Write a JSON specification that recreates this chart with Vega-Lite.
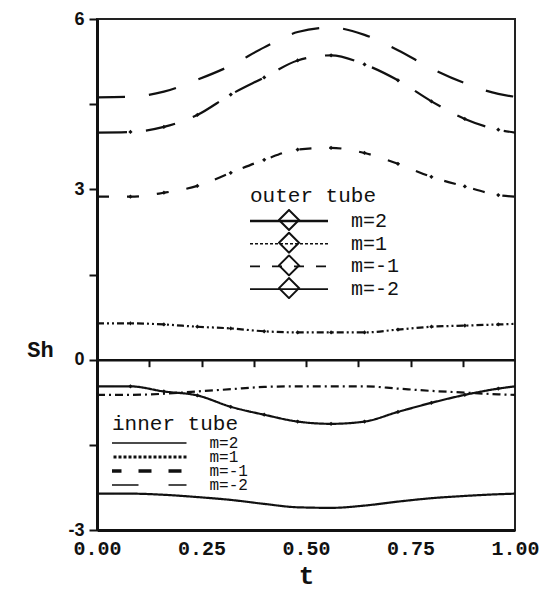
{
  "$schema": "https://vega.github.io/schema/vega-lite/v6.json",
  "width": 418,
  "height": 511,
  "autosize": {"type": "none"},
  "padding": {"left": 97, "top": 19, "right": 32, "bottom": 62},
  "background": "white",
  "config": {
    "view": {"stroke": "#222", "strokeWidth": 2},
    "axis": {"grid": false, "domainColor": "#111", "tickColor": "#111", "labelColor": "#111", "titleColor": "#111"}
  },
  "data": {
    "values": [
      {"tube": "outer", "m": "m=-2", "t": 0.00, "Sh": 4.62},
      {"tube": "outer", "m": "m=-2", "t": 0.08, "Sh": 4.63},
      {"tube": "outer", "m": "m=-2", "t": 0.16, "Sh": 4.72},
      {"tube": "outer", "m": "m=-2", "t": 0.24, "Sh": 4.93},
      {"tube": "outer", "m": "m=-2", "t": 0.32, "Sh": 5.18},
      {"tube": "outer", "m": "m=-2", "t": 0.40, "Sh": 5.50},
      {"tube": "outer", "m": "m=-2", "t": 0.48, "Sh": 5.77},
      {"tube": "outer", "m": "m=-2", "t": 0.56, "Sh": 5.85},
      {"tube": "outer", "m": "m=-2", "t": 0.64, "Sh": 5.72},
      {"tube": "outer", "m": "m=-2", "t": 0.72, "Sh": 5.45},
      {"tube": "outer", "m": "m=-2", "t": 0.80, "Sh": 5.13},
      {"tube": "outer", "m": "m=-2", "t": 0.88, "Sh": 4.87},
      {"tube": "outer", "m": "m=-2", "t": 0.96, "Sh": 4.68},
      {"tube": "outer", "m": "m=-2", "t": 1.00, "Sh": 4.63},
      {"tube": "outer", "m": "m=-1", "t": 0.00, "Sh": 4.00},
      {"tube": "outer", "m": "m=-1", "t": 0.08, "Sh": 4.01},
      {"tube": "outer", "m": "m=-1", "t": 0.16, "Sh": 4.10},
      {"tube": "outer", "m": "m=-1", "t": 0.24, "Sh": 4.31},
      {"tube": "outer", "m": "m=-1", "t": 0.32, "Sh": 4.67},
      {"tube": "outer", "m": "m=-1", "t": 0.40, "Sh": 4.97},
      {"tube": "outer", "m": "m=-1", "t": 0.48, "Sh": 5.27},
      {"tube": "outer", "m": "m=-1", "t": 0.56, "Sh": 5.36},
      {"tube": "outer", "m": "m=-1", "t": 0.64, "Sh": 5.20},
      {"tube": "outer", "m": "m=-1", "t": 0.72, "Sh": 4.92},
      {"tube": "outer", "m": "m=-1", "t": 0.80, "Sh": 4.55},
      {"tube": "outer", "m": "m=-1", "t": 0.88, "Sh": 4.24},
      {"tube": "outer", "m": "m=-1", "t": 0.96, "Sh": 4.05},
      {"tube": "outer", "m": "m=-1", "t": 1.00, "Sh": 4.00},
      {"tube": "outer", "m": "m=1", "t": 0.00, "Sh": 2.87},
      {"tube": "outer", "m": "m=1", "t": 0.08, "Sh": 2.87},
      {"tube": "outer", "m": "m=1", "t": 0.16, "Sh": 2.94},
      {"tube": "outer", "m": "m=1", "t": 0.24, "Sh": 3.06},
      {"tube": "outer", "m": "m=1", "t": 0.32, "Sh": 3.29},
      {"tube": "outer", "m": "m=1", "t": 0.40, "Sh": 3.52},
      {"tube": "outer", "m": "m=1", "t": 0.48, "Sh": 3.70},
      {"tube": "outer", "m": "m=1", "t": 0.56, "Sh": 3.73},
      {"tube": "outer", "m": "m=1", "t": 0.64, "Sh": 3.64},
      {"tube": "outer", "m": "m=1", "t": 0.72, "Sh": 3.45},
      {"tube": "outer", "m": "m=1", "t": 0.80, "Sh": 3.22},
      {"tube": "outer", "m": "m=1", "t": 0.88, "Sh": 3.05},
      {"tube": "outer", "m": "m=1", "t": 0.96, "Sh": 2.90},
      {"tube": "outer", "m": "m=1", "t": 1.00, "Sh": 2.87},
      {"tube": "outer", "m": "m=2", "t": 0.00, "Sh": 0.64},
      {"tube": "outer", "m": "m=2", "t": 0.08, "Sh": 0.64},
      {"tube": "outer", "m": "m=2", "t": 0.16, "Sh": 0.62},
      {"tube": "outer", "m": "m=2", "t": 0.24, "Sh": 0.58},
      {"tube": "outer", "m": "m=2", "t": 0.32, "Sh": 0.55},
      {"tube": "outer", "m": "m=2", "t": 0.40, "Sh": 0.50},
      {"tube": "outer", "m": "m=2", "t": 0.48, "Sh": 0.48},
      {"tube": "outer", "m": "m=2", "t": 0.56, "Sh": 0.48},
      {"tube": "outer", "m": "m=2", "t": 0.64, "Sh": 0.48},
      {"tube": "outer", "m": "m=2", "t": 0.72, "Sh": 0.53},
      {"tube": "outer", "m": "m=2", "t": 0.80, "Sh": 0.58},
      {"tube": "outer", "m": "m=2", "t": 0.88, "Sh": 0.60},
      {"tube": "outer", "m": "m=2", "t": 0.96, "Sh": 0.62},
      {"tube": "outer", "m": "m=2", "t": 1.00, "Sh": 0.63},
      {"tube": "inner", "m": "m=2", "t": 0.00, "Sh": -0.47},
      {"tube": "inner", "m": "m=2", "t": 0.08, "Sh": -0.47},
      {"tube": "inner", "m": "m=2", "t": 0.16, "Sh": -0.56},
      {"tube": "inner", "m": "m=2", "t": 0.24, "Sh": -0.63},
      {"tube": "inner", "m": "m=2", "t": 0.32, "Sh": -0.83},
      {"tube": "inner", "m": "m=2", "t": 0.40, "Sh": -0.97},
      {"tube": "inner", "m": "m=2", "t": 0.48, "Sh": -1.09},
      {"tube": "inner", "m": "m=2", "t": 0.56, "Sh": -1.13},
      {"tube": "inner", "m": "m=2", "t": 0.64, "Sh": -1.09},
      {"tube": "inner", "m": "m=2", "t": 0.72, "Sh": -0.92},
      {"tube": "inner", "m": "m=2", "t": 0.80, "Sh": -0.76},
      {"tube": "inner", "m": "m=2", "t": 0.88, "Sh": -0.62},
      {"tube": "inner", "m": "m=2", "t": 0.96, "Sh": -0.51},
      {"tube": "inner", "m": "m=2", "t": 1.00, "Sh": -0.47},
      {"tube": "inner", "m": "m=1", "t": 0.00, "Sh": -0.62},
      {"tube": "inner", "m": "m=1", "t": 0.08, "Sh": -0.62},
      {"tube": "inner", "m": "m=1", "t": 0.16, "Sh": -0.60},
      {"tube": "inner", "m": "m=1", "t": 0.24, "Sh": -0.56},
      {"tube": "inner", "m": "m=1", "t": 0.32, "Sh": -0.52},
      {"tube": "inner", "m": "m=1", "t": 0.40, "Sh": -0.48},
      {"tube": "inner", "m": "m=1", "t": 0.48, "Sh": -0.47},
      {"tube": "inner", "m": "m=1", "t": 0.56, "Sh": -0.47},
      {"tube": "inner", "m": "m=1", "t": 0.64, "Sh": -0.47},
      {"tube": "inner", "m": "m=1", "t": 0.72, "Sh": -0.51},
      {"tube": "inner", "m": "m=1", "t": 0.80, "Sh": -0.55},
      {"tube": "inner", "m": "m=1", "t": 0.88, "Sh": -0.58},
      {"tube": "inner", "m": "m=1", "t": 0.96, "Sh": -0.61},
      {"tube": "inner", "m": "m=1", "t": 1.00, "Sh": -0.62},
      {"tube": "inner", "m": "m=-2", "t": 0.00, "Sh": -2.36},
      {"tube": "inner", "m": "m=-2", "t": 0.08, "Sh": -2.36},
      {"tube": "inner", "m": "m=-2", "t": 0.16, "Sh": -2.38},
      {"tube": "inner", "m": "m=-2", "t": 0.24, "Sh": -2.42},
      {"tube": "inner", "m": "m=-2", "t": 0.32, "Sh": -2.47},
      {"tube": "inner", "m": "m=-2", "t": 0.40, "Sh": -2.54},
      {"tube": "inner", "m": "m=-2", "t": 0.48, "Sh": -2.60},
      {"tube": "inner", "m": "m=-2", "t": 0.56, "Sh": -2.61},
      {"tube": "inner", "m": "m=-2", "t": 0.64, "Sh": -2.57},
      {"tube": "inner", "m": "m=-2", "t": 0.72, "Sh": -2.50},
      {"tube": "inner", "m": "m=-2", "t": 0.80, "Sh": -2.44},
      {"tube": "inner", "m": "m=-2", "t": 0.88, "Sh": -2.40},
      {"tube": "inner", "m": "m=-2", "t": 0.96, "Sh": -2.37},
      {"tube": "inner", "m": "m=-2", "t": 1.00, "Sh": -2.36}
    ]
  },
  "layer": [
    {
      "transform": [{"filter": "datum.tube === 'outer'"}],
      "mark": {"type": "line", "interpolate": "monotone", "color": "#111", "strokeWidth": 2.2},
      "encoding": {
        "x": {
          "field": "t", "type": "quantitative",
          "scale": {"domain": [0, 1], "nice": false},
          "axis": {
            "orient": "bottom", "values": [0, 0.25, 0.5, 0.75, 1], "format": ".2f",
            "ticks": false, "domainWidth": 3, "labelPadding": 8, "labelFlush": false,
            "labelFont": "Liberation Mono", "labelFontWeight": "bold", "labelFontSize": 20,
            "title": "t", "titleFont": "Liberation Mono", "titleFontWeight": "bold", "titleFontSize": 26,
            "titleY": 53, "titleBaseline": "alphabetic"
          }
        },
        "y": {
          "field": "Sh", "type": "quantitative",
          "scale": {"domain": [-3, 6], "nice": false, "zero": false},
          "axis": {
            "values": [-3, -1.5, 0, 1.5, 3, 4.5, 6],
            "labelExpr": "datum.value % 3 === 0 ? '' + datum.value : ''",
            "tickSize": 8, "tickWidth": 2, "domainWidth": 3, "labelPadding": 5,
            "labelFont": "Liberation Sans", "labelFontWeight": "bold", "labelFontSize": 18,
            "title": "Sh", "titleAngle": 0, "titleFont": "Liberation Mono", "titleFontWeight": "bold",
            "titleFontSize": 22, "titleX": -57, "titleY": 330, "titleAlign": "center", "titleBaseline": "middle"
          }
        },
        "strokeDash": {
          "field": "m", "type": "nominal", "legend": null,
          "scale": {"range": [[30, 19], [28, 24], [12, 18], [7, 3, 2, 3, 2, 3]]}
        },
        "opacity": {
          "field": "m", "type": "nominal",
          "scale": {"domain": ["m=2", "m=1", "m=-1", "m=-2"], "range": [1, 1, 1, 1]},
          "legend": {
            "title": "outer tube", "orient": "none", "legendX": 153, "legendY": 166, "padding": 0,
            "symbolType": "stroke", "symbolSize": 6084, "symbolStrokeWidth": 2, "symbolStrokeColor": "#111",
            "clipHeight": 22, "rowPadding": 0.7, "titlePadding": 4, "symbolOffset": 29, "labelOffset": 52,
            "titleFont": "Liberation Mono", "titleFontWeight": "normal", "titleFontSize": 21, "titleColor": "#111",
            "labelFont": "Liberation Mono", "labelFontSize": 20, "labelColor": "#111",
            "encoding": {
              "symbols": {
                "size": {"value": 6084},
                "strokeDash": {"value": {"expr": "datum.value === 'm=1' ? [3, 2] : datum.value === 'm=-1' ? [10, 12] : [1, 0]"}},
                "strokeWidth": {"value": {"expr": "datum.value === 'm=2' ? 2.5 : 1.6"}}
              }
            }
          }
        }
      }
    },
    {
      "transform": [{"filter": "datum.tube === 'inner'"}],
      "mark": {"type": "line", "interpolate": "monotone", "color": "#111", "strokeWidth": 2.2},
      "encoding": {
        "x": {
          "field": "t", "type": "quantitative",
          "axis": {
            "orient": "bottom", "offset": -170.33, "values": [0.125, 0.25, 0.375, 0.5, 0.625, 0.75, 0.875],
            "labels": false, "title": null, "tickSize": 7, "tickWidth": 2, "domainWidth": 2.5
          }
        },
        "y": {"field": "Sh", "type": "quantitative"},
        "strokeDash": {
          "field": "m", "type": "nominal", "legend": null,
          "scale": {"range": [[1, 0], [8, 4, 2, 4], [1, 0]]}
        },
        "opacity": {
          "field": "m", "type": "nominal",
          "scale": {"domain": ["m=2", "m=1", "m=-1", "m=-2"], "range": [1, 1, 1, 1]},
          "legend": {
            "title": "inner tube", "orient": "none", "legendX": 15, "legendY": 394, "padding": 0,
            "symbolType": "stroke", "symbolSize": 6084, "symbolStrokeWidth": 2, "symbolStrokeColor": "#111",
            "clipHeight": 12, "rowPadding": -8.9, "titlePadding": 3, "symbolOffset": 27.5, "labelOffset": 54,
            "titleFont": "Liberation Mono", "titleFontWeight": "normal", "titleFontSize": 21, "titleColor": "#111",
            "labelFont": "Liberation Mono", "labelFontSize": 16, "labelColor": "#111",
            "encoding": {
              "symbols": {
                "size": {"value": 6084},
                "strokeDash": {"value": {"expr": "datum.value === 'm=1' ? [3, 2] : datum.value === 'm=-1' ? [13, 17] : datum.value === 'm=-2' ? [30, 30] : [1, 0]"}},
                "strokeWidth": {"value": {"expr": "datum.value === 'm=1' ? 3 : datum.value === 'm=-1' ? 3.5 : 1.5"}}
              }
            }
          }
        }
      }
    },
    {
      "transform": [
        {"filter": "datum.t > 0 && datum.t < 1"},
        {"filter": "(datum.tube === 'outer' && datum.m !== 'm=-2') || (datum.tube === 'inner' && datum.m === 'm=2')"}
      ],
      "mark": {"type": "point", "filled": true, "color": "#111", "size": 18, "opacity": 1},
      "encoding": {
        "x": {"field": "t", "type": "quantitative", "axis": null},
        "y": {"field": "Sh", "type": "quantitative"},
        "shape": {
          "field": "m", "type": "nominal",
          "scale": {
            "domain": ["m=2", "m=1", "m=-1", "m=-2"],
            "range": ["diamond", "diamond", "diamond", "diamond"]
          },
          "legend": {
            "title": null, "orient": "none", "legendX": 181, "legendY": 190, "padding": 0,
            "values": ["m=2", "m=1", "m=-1", "m=-2"],
            "symbolSize": 400, "symbolStrokeWidth": 2, "symbolStrokeColor": "#111",
            "clipHeight": 22, "rowPadding": 0.7, "labelOffset": 20,
            "labelExpr": "''", "labelFont": "Liberation Mono", "labelFontSize": 20, "labelColor": "transparent",
            "encoding": {
              "symbols": {
                "fill": {"value": "transparent"},
                "stroke": {"value": "#111"},
                "strokeWidth": {"value": 2},
                "opacity": {"value": 1}
              }
            }
          }
        }
      }
    }
  ],
  "resolve": {
    "scale": {"strokeDash": "independent", "shape": "independent", "opacity": "independent"},
    "axis": {"x": "independent"},
    "legend": {"opacity": "independent", "shape": "independent", "strokeDash": "independent"}
  }
}
